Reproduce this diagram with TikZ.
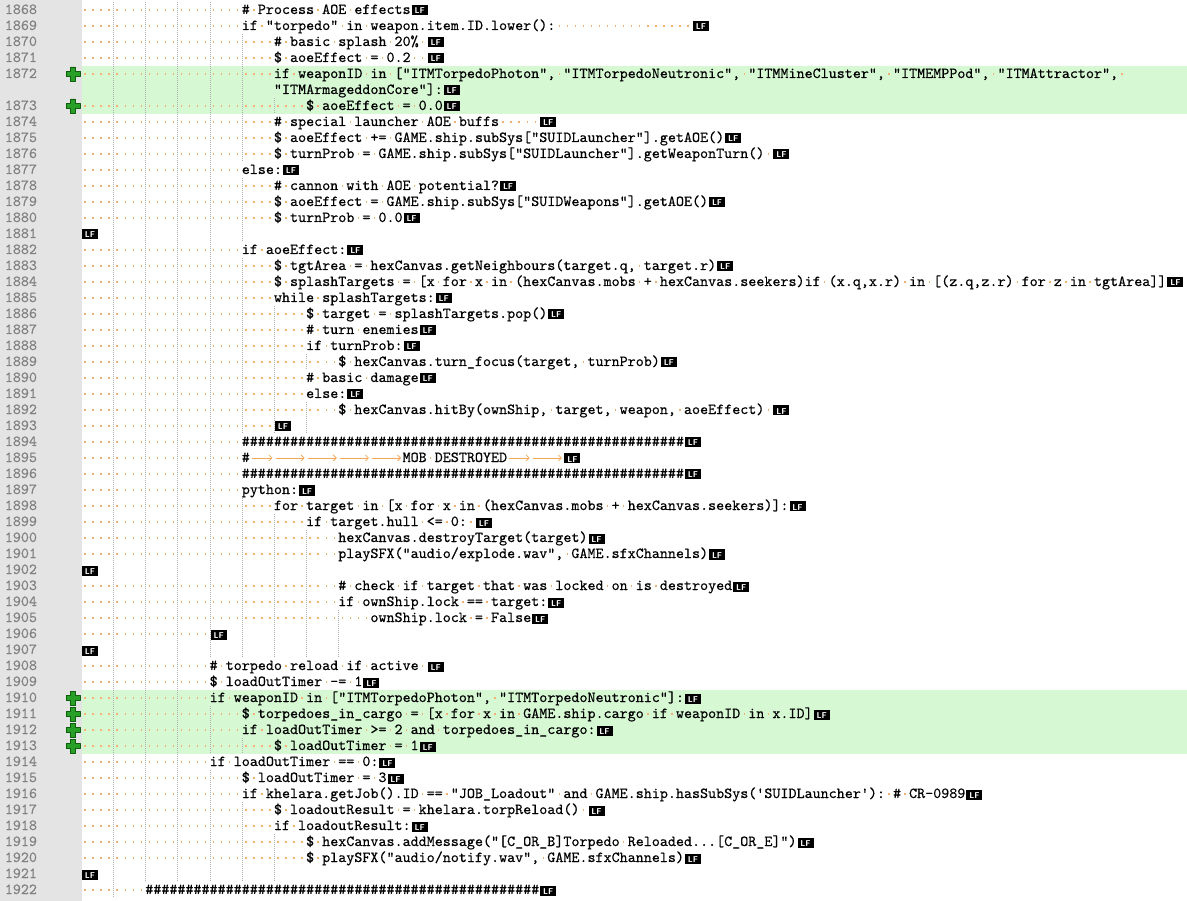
\documentclass[tikz,border=0pt]{standalone}
\usetikzlibrary{positioning,calc,arrows.meta}

\definecolor{wsdot}{RGB}{244,176,112}
\definecolor{tabcol}{RGB}{246,168,88}
\definecolor{guidegray}{RGB}{175,175,175}
\definecolor{gutter}{RGB}{228,228,228}
\definecolor{linegray}{RGB}{128,128,128}
\definecolor{addgreen}{RGB}{214,249,212}
\definecolor{plusgreen}{RGB}{40,160,40}
\definecolor{plusdark}{RGB}{15,95,15}

% code font: one cell = 8.04pt
\font\codefnt="[lmmono10-regular]:embolden=0.4" at 15.314pt
\newdimen\cwd \cwd=8.04pt

\newcommand\wsdot{\makebox[\cwd]{\color{wsdot}\rule[3.3pt]{1.4pt}{1.4pt}}}
\newcommand\tabgap[1]{\hspace*{#1\cwd}}
\newcommand\lfmark{\hspace*{1pt}\rlap{\rule[-1.5pt]{16pt}{10pt}}\makebox[16pt]{\color{white}\sffamily\bfseries\fontsize{8.5}{8.5}\selectfont LF}}
\def\nolf#1{}

\begingroup
\catcode`\ =\active%
\gdef\setdots{\def {\wsdot}}%
\endgroup

\makeatletter
\newcommand\codeline[3]{\begingroup
  \catcode`\ =\active \catcode`\#=12 \catcode`\$=12
  \catcode`\%=12 \catcode`\_=12 \cl@read{#1}{#2}{#3}}
\def\cl@read#1#2#3|#4|{\endgroup
  \node[lineno] (n#2) at (37,-14-16*#1) {#2};
  \node[codetext] (l#2) at (81,-14-16*#1) {\setdots\cl@dots{#3}#4\lfmark};}
\def\cl@dots#1{\ifnum#1>0 \wsdot\expandafter\cl@dots\expandafter{\the\numexpr#1-1\relax}\fi}
\makeatother

\begin{document}
\begin{tikzpicture}[x=1pt,y=1pt]
  \tikzstyle{codetext}=[anchor=base west,inner sep=0,outer sep=0,font=\codefnt]
  \tikzstyle{lineno}=[anchor=base east,inner sep=0,outer sep=0,text=linegray,font=\codefnt]
  \tikzstyle{guide}=[draw=guidegray,line width=1pt,dash pattern=on 1pt off 1pt]
  \tikzstyle{tabarrow}=[draw=tabcol,line width=0.8pt,-{Straight Barb[length=3pt,width=6pt]}]
  \tikzstyle{plusicon}=[fill=plusgreen,draw=plusdark,line width=0.8pt,line join=round]
  \tikzstyle{added}=[fill=addgreen,draw=none]

  \useasboundingbox (0,0) rectangle (1187,-901);
  \fill[white] (0,0) rectangle (1187,-901);
  \fill[gutter] (0,0) rectangle (82,-901);

  % added lines
  \foreach \r in {4,5,6,43,44,45,46}
    \fill[added] (82,-2-16*\r) rectangle (1187,-18-16*\r);

  % indent guides, row/levels
  \foreach \r/\n in {0/4,1/4,2/5,3/5,4/5,5/5,6/6,7/5,8/5,9/5,10/4,11/5,12/5,13/5,
                     14/5,15/4,16/5,17/5,18/5,19/6,20/6,21/6,22/7,23/6,24/6,25/7,
                     26/7,27/4,28/4,29/4,30/4,31/5,32/6,33/7,34/7,35/7,36/7,37/7,
                     38/8,39/8,40/8,41/3,42/3,43/3,44/4,45/4,46/5,47/3,48/4,49/4,
                     50/5,51/5,52/6,53/6,54/6,55/1}
    \foreach \k in {1,...,\n}
      \draw[guide] (81.5+32.16*\k,-2-16*\r) -- ++(0,-16);

  \codeline{0}{1868}{20}|# Process AOE effects|
  \codeline{1}{1869}{20}|if "torpedo" in weapon.item.ID.lower():                 |
  \codeline{2}{1870}{24}|# basic splash 20% |
  \codeline{3}{1871}{24}|$ aoeEffect = 0.2  |
  \codeline{4}{1872}{24}|if weaponID in ["ITMTorpedoPhoton", "ITMTorpedoNeutronic", "ITMMineCluster", "ITMEMPPod", "ITMAttractor", \nolf|
  \node[codetext] (l1872w) at (81+24*8.04,-14-16*5) {"ITMArmageddonCore"]:\lfmark};
  \codeline{6}{1873}{28}|$ aoeEffect = 0.0|
  \codeline{7}{1874}{24}|# special launcher AOE buffs     |
  \codeline{8}{1875}{24}|$ aoeEffect += GAME.ship.subSys["SUIDLauncher"].getAOE()|
  \codeline{9}{1876}{24}|$ turnProb = GAME.ship.subSys["SUIDLauncher"].getWeaponTurn() |
  \codeline{10}{1877}{20}|else:|
  \codeline{11}{1878}{24}|# cannon with AOE potential?|
  \codeline{12}{1879}{24}|$ aoeEffect = GAME.ship.subSys["SUIDWeapons"].getAOE()|
  \codeline{13}{1880}{24}|$ turnProb = 0.0|
  \codeline{14}{1881}{0}||
  \codeline{15}{1882}{20}|if aoeEffect:|
  \codeline{16}{1883}{24}|$ tgtArea = hexCanvas.getNeighbours(target.q, target.r)|
  \codeline{17}{1884}{24}|$ splashTargets = [x for x in (hexCanvas.mobs + hexCanvas.seekers)if (x.q,x.r) in [(z.q,z.r) for z in tgtArea]]|
  \codeline{18}{1885}{24}|while splashTargets:|
  \codeline{19}{1886}{28}|$ target = splashTargets.pop()|
  \codeline{20}{1887}{28}|# turn enemies|
  \codeline{21}{1888}{28}|if turnProb:|
  \codeline{22}{1889}{32}|$ hexCanvas.turn_focus(target, turnProb)|
  \codeline{23}{1890}{28}|# basic damage|
  \codeline{24}{1891}{28}|else:|
  \codeline{25}{1892}{32}|$ hexCanvas.hitBy(ownShip, target, weapon, aoeEffect) |
  \codeline{26}{1893}{24}||
  \codeline{27}{1894}{20}|#######################################################|
  \codeline{28}{1895}{20}|#\tabgap{3}\tabgap{4}\tabgap{4}\tabgap{4}\tabgap{4}MOB DESTROYED\tabgap{3}\tabgap{4}|
  \codeline{29}{1896}{20}|#######################################################|
  \codeline{30}{1897}{20}|python:|
  \codeline{31}{1898}{24}|for target in [x for x in (hexCanvas.mobs + hexCanvas.seekers)]:|
  \codeline{32}{1899}{28}|if target.hull <= 0: |
  \codeline{33}{1900}{32}|hexCanvas.destroyTarget(target)|
  \codeline{34}{1901}{32}|playSFX("audio/explode.wav", GAME.sfxChannels)|
  \codeline{35}{1902}{0}||
  \codeline{36}{1903}{32}|# check if target that was locked on is destroyed|
  \codeline{37}{1904}{32}|if ownShip.lock == target:|
  \codeline{38}{1905}{36}|ownShip.lock = False|
  \codeline{39}{1906}{16}||
  \codeline{40}{1907}{0}||
  \codeline{41}{1908}{16}|# torpedo reload if active |
  \codeline{42}{1909}{16}|$ loadOutTimer -= 1|
  \codeline{43}{1910}{16}|if weaponID in ["ITMTorpedoPhoton", "ITMTorpedoNeutronic"]:|
  \codeline{44}{1911}{20}|$ torpedoes_in_cargo = [x for x in GAME.ship.cargo if weaponID in x.ID]|
  \codeline{45}{1912}{20}|if loadOutTimer >= 2 and torpedoes_in_cargo:|
  \codeline{46}{1913}{24}|$ loadOutTimer = 1|
  \codeline{47}{1914}{16}|if loadOutTimer == 0:|
  \codeline{48}{1915}{20}|$ loadOutTimer = 3|
  \codeline{49}{1916}{20}|if khelara.getJob().ID == "JOB_Loadout" and GAME.ship.hasSubSys('SUIDLauncher'): # CR-0989|
  \codeline{50}{1917}{24}|$ loadoutResult = khelara.torpReload() |
  \codeline{51}{1918}{24}|if loadoutResult:|
  \codeline{52}{1919}{28}|$ hexCanvas.addMessage("[C_OR_B]Torpedo Reloaded...[C_OR_E]")|
  \codeline{53}{1920}{28}|$ playSFX("audio/notify.wav", GAME.sfxChannels)|
  \codeline{54}{1921}{0}||
  \codeline{55}{1922}{8}|#################################################|

  % tab arrows in the banner line
  \foreach \a/\b in {21/24,24/28,28/32,32/36,36/40,53/56,56/60}
    \draw[tabarrow] ($(l1895.base west)+(8.04*\a+2,4)$) -- ($(l1895.base west)+(8.04*\b-1.5,4)$);

  % change markers
  \foreach \r in {4,6,43,44,45,46}
    \draw[plusicon] (73,-10-16*\r) ++(-2.5,7) -- ++(5,0) -- ++(0,-4.5) -- ++(4.5,0)
      -- ++(0,-5) -- ++(-4.5,0) -- ++(0,-4.5) -- ++(-5,0) -- ++(0,4.5) -- ++(-4.5,0)
      -- ++(0,5) -- ++(4.5,0) -- cycle;
\end{tikzpicture}
\end{document}
